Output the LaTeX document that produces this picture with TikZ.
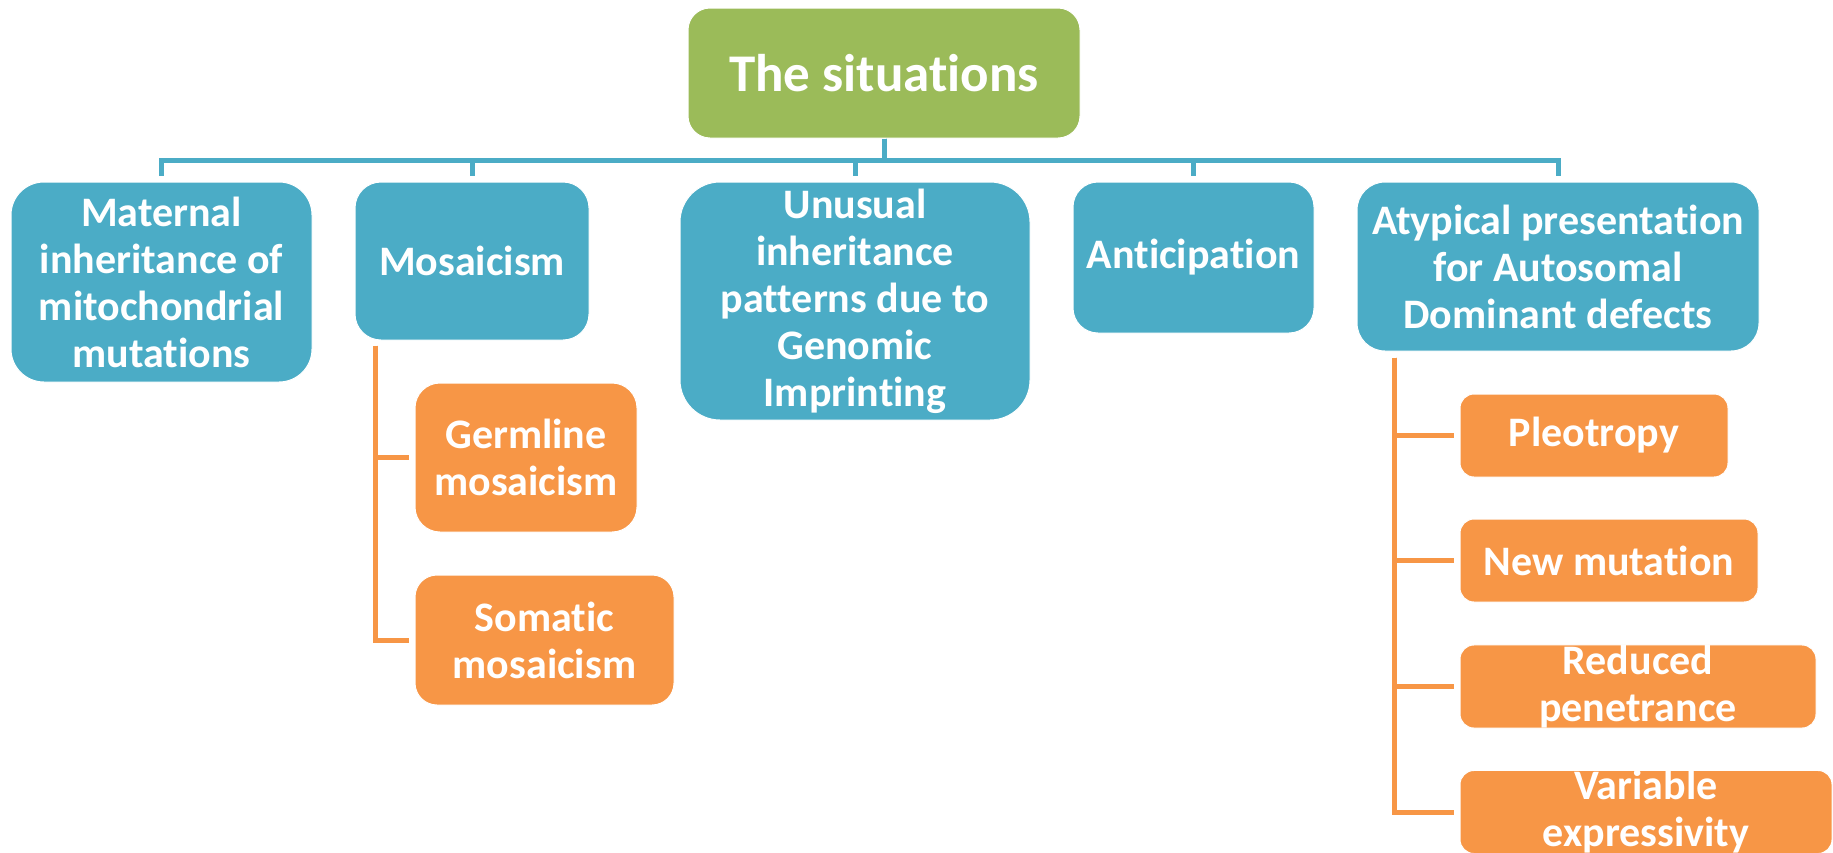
\documentclass[tikz,border=0pt]{standalone}
\usepackage{fontspec}
\setmainfont{Carlito}[RawFeature={-liga;-dlig;-clig;-calt}]
\usetikzlibrary{calc}
\definecolor{boxblue}{HTML}{4BACC6}
\definecolor{boxgreen}{HTML}{9BBB59}
\definecolor{boxorange}{HTML}{F79646}
\newcommand{\tI}{t\kern0pt i}
\begin{document}
\begin{tikzpicture}[x=1pt,y=-1pt,
  basebox/.style 2 args={draw=white, line width=1pt, text=white, align=center,
    inner sep=0pt, minimum width=#1, minimum height=#2,
    font=\bfseries\fontsize{42}{47}\selectfont},
  rootbox/.style 2 args={basebox={#1}{#2}, fill=boxgreen, font=\bfseries\fontsize{53}{60}\selectfont},
  bluebox/.style 2 args={basebox={#1}{#2}, fill=boxblue},
  orbox/.style 2 args={basebox={#1}{#2}, fill=boxorange},
  bline/.style={draw=boxblue, line width=5pt},
  oline/.style={draw=boxorange, line width=5pt}]
\useasboundingbox (0,0) rectangle (1833,852);
\clip (0,0) rectangle (1833,852);

% root
\node[rootbox={392pt}{130pt}, rounded corners=22pt] (root) at (884,73) {The situa\tI ons};

% level 1
\node[bluebox={301pt}{200pt}, rounded corners=33pt] (mat) at (161.5,282) {Maternal\\inheritance of\\mitochondrial\\muta\tI ons};
\node[bluebox={234pt}{158pt}, rounded corners=26pt] (mos) at (472,261) {Mosaicism};
\node[bluebox={350pt}{238pt}, rounded corners=40pt] (unu) at (855,301) {Unusual\\inheritance\\patterns due to\\Genomic\\Imprinting};
\node[bluebox={241pt}{151pt}, rounded corners=25pt] (ant) at (1193.5,257.5) {An\tI cipa\tI on};
\node[bluebox={402pt}{169pt}, rounded corners=28pt] (aty) at (1558,266.5) {Atypical presenta\tI on\\for Autosomal\\Dominant defects};

% mosaicism children
\node[orbox={222pt}{149pt}, rounded corners=25pt] (germ) at (526,457.5) {Germline\\mosaicism};
\node[orbox={259pt}{130pt}, rounded corners=22pt] (som) at (544.5,640) {Somatic\\mosaicism};

% atypical children
\node[orbox={268pt}{83pt}, rounded corners=14pt] (pleo) at (1594,435.5) {Pleotropy};
\node[orbox={298pt}{83pt}, rounded corners=14pt] (newm) at (1609,560.5) {New muta\tI on};
\node[orbox={356pt}{83pt}, rounded corners=14pt] (red) at (1638,686.5) {Reduced\\penetrance};
\node[orbox={372pt}{82pt}, rounded corners=14pt] (var) at (1646,812) {Variable\\expressivity};

% blue connectors
\foreach \c in {mat,mos,unu,ant,aty}
  \draw[bline] (root.south) -- ++(0,22) -| ($(\c.north)+(0,-6)$);

% orange connectors
\coordinate (mtop) at ($(mos.south west)+(21,5)$);
\draw[oline] (mtop) |- ($(germ.west)+(-6,0)$);
\draw[oline] (mtop) |- ($(som.west)+(-6,0)$);

\coordinate (atop) at ($(aty.south west)+(38,6)$);
\foreach \c in {pleo,newm,red,var}
  \draw[oline] (atop) |- ($(\c.west)+(-6,0)$);
\end{tikzpicture}
\end{document}
